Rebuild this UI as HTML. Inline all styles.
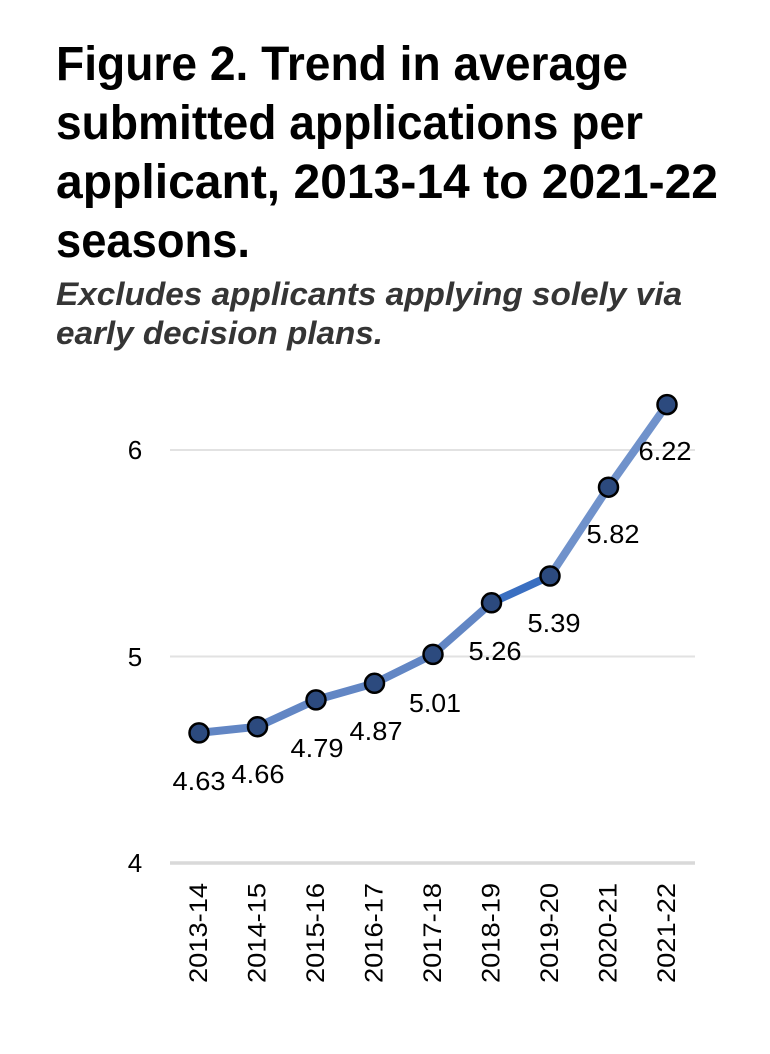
<!DOCTYPE html>
<html>
<head>
<meta charset="utf-8">
<style>
  html, body { margin:0; padding:0; background:#ffffff; }
  body { width:770px; height:1054px; overflow:hidden; }
  svg { display:block; }
</style>
</head>
<body>
<svg width="770" height="1054" viewBox="0 0 770 1054" xmlns="http://www.w3.org/2000/svg">
  <rect x="0" y="0" width="770" height="1054" fill="#ffffff"/>

  <!-- Title -->
  <g font-family="'Liberation Sans', Arial, sans-serif" font-weight="bold" font-size="48" fill="#000">
    <text x="56" y="80" textLength="572" lengthAdjust="spacingAndGlyphs">Figure 2. Trend in average</text>
    <text x="56" y="139" textLength="587" lengthAdjust="spacingAndGlyphs">submitted applications per</text>
    <text x="56" y="198" textLength="662" lengthAdjust="spacingAndGlyphs">applicant, 2013-14 to 2021-22</text>
    <text x="56" y="257" textLength="194" lengthAdjust="spacingAndGlyphs">seasons.</text>
  </g>

  <!-- Subtitle -->
  <g font-family="'Liberation Sans', Arial, sans-serif" font-weight="bold" font-style="italic" font-size="32" fill="#353535">
    <text x="56" y="305" textLength="626" lengthAdjust="spacingAndGlyphs">Excludes applicants applying solely via</text>
    <text x="56" y="344" textLength="327" lengthAdjust="spacingAndGlyphs">early decision plans.</text>
  </g>

  <!-- Gridlines -->
  <line x1="170" y1="450" x2="695" y2="450" stroke="#e2e2e2" stroke-width="2"/>
  <line x1="170" y1="656.5" x2="695" y2="656.5" stroke="#e2e2e2" stroke-width="2"/>
  <line x1="170" y1="863" x2="695" y2="863" stroke="#d9d9d9" stroke-width="3.5"/>

  <!-- Y labels -->
  <g font-family="'Liberation Sans', Arial, sans-serif" font-size="26" fill="#000" text-anchor="middle">
    <text x="135" y="459">6</text>
    <text x="135" y="666">5</text>
    <text x="135" y="872">4</text>
  </g>

  <!-- Series line -->
  <g fill="none" stroke-width="8" stroke-linecap="round" stroke-linejoin="round">
    <polyline points="199,732.9 257.5,726.7 316,699.9 374.5,683.3 433,654.4 491.5,602.8" stroke="#6286c4"/>
    <line x1="491.5" y1="602.8" x2="550" y2="576" stroke="#3a6fc1"/>
    <polyline points="550,576 608.5,487.2 667,404.6" stroke="#7092cb"/>
  </g>

  <!-- Markers -->
  <g fill="#2c4a7e" stroke="#000" stroke-width="2.5">
    <circle cx="199" cy="732.9" r="9.5"/>
    <circle cx="257.5" cy="726.7" r="9.5"/>
    <circle cx="316" cy="699.9" r="9.5"/>
    <circle cx="374.5" cy="683.3" r="9.5"/>
    <circle cx="433" cy="654.4" r="9.5"/>
    <circle cx="491.5" cy="602.8" r="9.5"/>
    <circle cx="550" cy="576" r="9.5"/>
    <circle cx="608.5" cy="487.2" r="9.5"/>
    <circle cx="667" cy="404.6" r="9.5"/>
  </g>

  <!-- Data labels -->
  <g font-family="'Liberation Sans', Arial, sans-serif" font-size="26" fill="#000" text-anchor="middle">
    <text x="199" y="790" textLength="53" lengthAdjust="spacingAndGlyphs">4.63</text>
    <text x="258" y="783" textLength="53" lengthAdjust="spacingAndGlyphs">4.66</text>
    <text x="317" y="757" textLength="53" lengthAdjust="spacingAndGlyphs">4.79</text>
    <text x="376" y="740" textLength="53" lengthAdjust="spacingAndGlyphs">4.87</text>
    <text x="435" y="712" textLength="52" lengthAdjust="spacingAndGlyphs">5.01</text>
    <text x="495" y="660" textLength="53" lengthAdjust="spacingAndGlyphs">5.26</text>
    <text x="554" y="632" textLength="53" lengthAdjust="spacingAndGlyphs">5.39</text>
    <text x="613" y="543" textLength="53" lengthAdjust="spacingAndGlyphs">5.82</text>
    <text x="665" y="460" textLength="53" lengthAdjust="spacingAndGlyphs">6.22</text>
  </g>

  <!-- X labels -->
  <g font-family="'Liberation Sans', Arial, sans-serif" font-size="25" fill="#000" text-anchor="end">
    <text transform="translate(207,883) rotate(-90)" textLength="100" lengthAdjust="spacingAndGlyphs">2013-14</text>
    <text transform="translate(265.5,883) rotate(-90)" textLength="100" lengthAdjust="spacingAndGlyphs">2014-15</text>
    <text transform="translate(324,883) rotate(-90)" textLength="100" lengthAdjust="spacingAndGlyphs">2015-16</text>
    <text transform="translate(382.5,883) rotate(-90)" textLength="100" lengthAdjust="spacingAndGlyphs">2016-17</text>
    <text transform="translate(441,883) rotate(-90)" textLength="100" lengthAdjust="spacingAndGlyphs">2017-18</text>
    <text transform="translate(499.5,883) rotate(-90)" textLength="100" lengthAdjust="spacingAndGlyphs">2018-19</text>
    <text transform="translate(558,883) rotate(-90)" textLength="100" lengthAdjust="spacingAndGlyphs">2019-20</text>
    <text transform="translate(616.5,883) rotate(-90)" textLength="100" lengthAdjust="spacingAndGlyphs">2020-21</text>
    <text transform="translate(675,883) rotate(-90)" textLength="100" lengthAdjust="spacingAndGlyphs">2021-22</text>
  </g>
</svg>
</body>
</html>
